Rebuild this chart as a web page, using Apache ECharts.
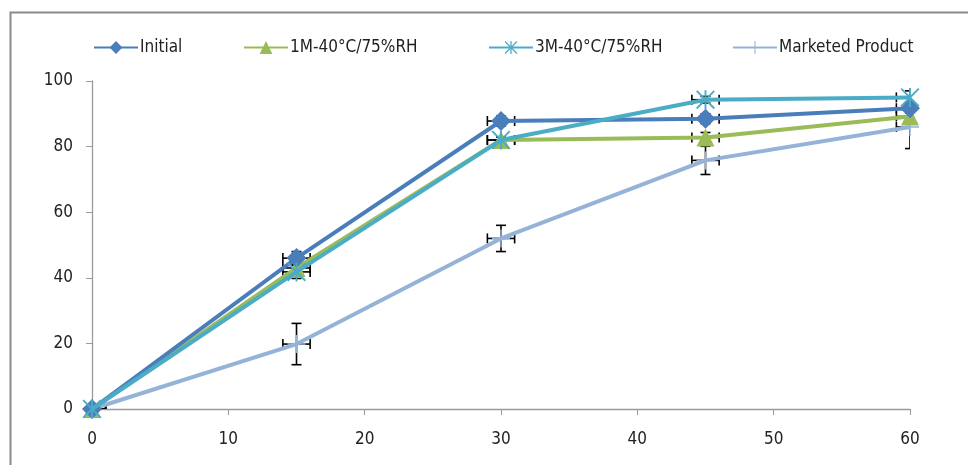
<!DOCTYPE html>
<html>
<head>
<meta charset="utf-8">
<script src="https://cdn.jsdelivr.net/npm/echarts@6/dist/echarts.min.js"></script>
<style>html,body{margin:0;padding:0;background:#fff}#c{width:968px;height:465px}</style>
</head>
<body>
<div id="c"></div>
<script>
var times = [0, 15, 30, 45, 60];
var seriesNames = ['Initial', '1M-40°C/75%RH', '3M-40°C/75%RH', 'Marketed Product'];
var initialVals = [0, 46, 87.8, 88.5, 91.7];
var m1Vals = [0, 43, 82, 82.8, 89.2];
var m3Vals = [0, 41.8, 82, 94.3, 95];
var marketedVals = [0, 19.8, 52, 75.8, 86];
var initialErr = [0, 2, 1.5, 1.5, 1.5];
var m1Err = [0, 2, 1, 1.5, 2];
var m3Err = [0, 2, 1, 1, 2];
var marketedErr = [0, 6.3, 4, 4.3, 6.6];
var timeErr = [1, 1, 1, 1, 1];
var xTicks = [0, 10, 20, 30, 40, 50, 60];
var yTicks = [0, 20, 40, 60, 80, 100];

var colors = ['#4A7EBB', '#9BBB59', '#4BACC6', '#95B3D7'];
var starPath = 'path://M9 0L11 0L11 20L9 20Z M0 1.4L1.4 0L20 18.6L18.6 20Z M18.6 0L20 1.4L1.4 20L0 18.6Z';
var plusPath = 'path://M9.2 0L10.8 0L10.8 20L9.2 20Z M0 9.2L20 9.2L20 10.8L0 10.8Z';
var symbols = ['diamond', 'triangle', starPath, plusPath];
var symbolSizes = [20, 18, 19, 18];
var allVals = [initialVals, m1Vals, m3Vals, marketedVals];
var allErr = [initialErr, m1Err, m3Err, marketedErr];

var font = "'DejaVu Sans Condensed', 'Liberation Sans Narrow', sans-serif";

var series = [];
var errData = [];
for (var s = 0; s < 4; s++) {
  for (var i = 0; i < times.length; i++) {
    errData.push([times[i], allVals[s][i], timeErr[i], allErr[s][i]]);
  }
}
series.push({
  type: 'custom',
  name: 'err',
  z: 1,
  clip: true,
  silent: true,
  renderItem: function (params, api) {
    var x = api.value(0), y = api.value(1), ex = api.value(2), ey = api.value(3);
    var c = api.coord([x, y]);
    var l = api.coord([x - ex, y]), r = api.coord([x + ex, y]);
    var t = api.coord([x, y + ey]), b = api.coord([x, y - ey]);
    var cap = 5;
    var st = {stroke: '#000', lineWidth: 1.6};
    var ch = [
      {type: 'line', shape: {x1: l[0], y1: c[1], x2: r[0], y2: c[1]}, style: st},
      {type: 'line', shape: {x1: l[0], y1: c[1] - cap, x2: l[0], y2: c[1] + cap}, style: st},
      {type: 'line', shape: {x1: r[0], y1: c[1] - cap, x2: r[0], y2: c[1] + cap}, style: st}
    ];
    if (ey > 0) {
      ch.push({type: 'line', shape: {x1: c[0], y1: t[1], x2: c[0], y2: b[1]}, style: st});
      ch.push({type: 'line', shape: {x1: c[0] - cap, y1: t[1], x2: c[0] + cap, y2: t[1]}, style: st});
      ch.push({type: 'line', shape: {x1: c[0] - cap, y1: b[1], x2: c[0] + cap, y2: b[1]}, style: st});
    }
    return {type: 'group', children: ch};
  },
  data: errData
});
var order = [3, 1, 0, 2];
for (var k = 0; k < 4; k++) {
  var si = order[k];
  var d = [];
  for (var j = 0; j < times.length; j++) d.push([times[j], allVals[si][j]]);
  series.push({
    type: 'line',
    name: seriesNames[si],
    z: 2 + k,
    data: d,
    symbol: symbols[si],
    symbolSize: symbolSizes[si],
    showAllSymbol: true,
    clip: false,
    color: colors[si],
    lineStyle: {width: 4, color: colors[si]},
    itemStyle: {color: colors[si], borderWidth: 0},
    emphasis: {disabled: true}
  });
}

var legendLefts = [88, 238, 483, 727];
var legends = seriesNames.map(function (n, i) {
  return {
    data: [n],
    left: legendLefts[i],
    top: 34,
    itemWidth: 44,
    itemHeight: 16,
    itemGap: 0,
    textStyle: {fontFamily: font, fontSize: 17, color: '#222', padding: [0, 0, 0, -3]},
    selectedMode: false
  };
});

var chart = echarts.init(document.getElementById('c'), null, {renderer: 'canvas'});
chart.setOption({
  animation: false,
  backgroundColor: '#fff',
  graphic: [{
    type: 'rect', left: 8, top: 10, shape: {width: 1000, height: 500},
    style: {fill: 'none', stroke: '#8a8a8a', lineWidth: 2}, z: 0
  }],
  legend: legends,
  grid: {left: 92, right: 58, top: 81, bottom: 56},
  xAxis: {
    type: 'value', min: 0, max: 60, interval: 10,
    axisLine: {show: true, lineStyle: {color: '#9a9a9a', width: 1.3}},
    axisTick: {show: true, length: 6, lineStyle: {color: '#9a9a9a'}},
    splitLine: {show: false},
    axisLabel: {fontFamily: font, fontSize: 17, color: '#222', margin: 22}
  },
  yAxis: {
    type: 'value', min: 0, max: 100, interval: 20,
    axisLine: {show: true, lineStyle: {color: '#9a9a9a', width: 1.3}},
    axisTick: {show: true, length: 6, lineStyle: {color: '#9a9a9a'}},
    splitLine: {show: false},
    axisLabel: {fontFamily: font, fontSize: 17, color: '#222', margin: 19}
  },
  series: series
});
</script>
</body>
</html>
